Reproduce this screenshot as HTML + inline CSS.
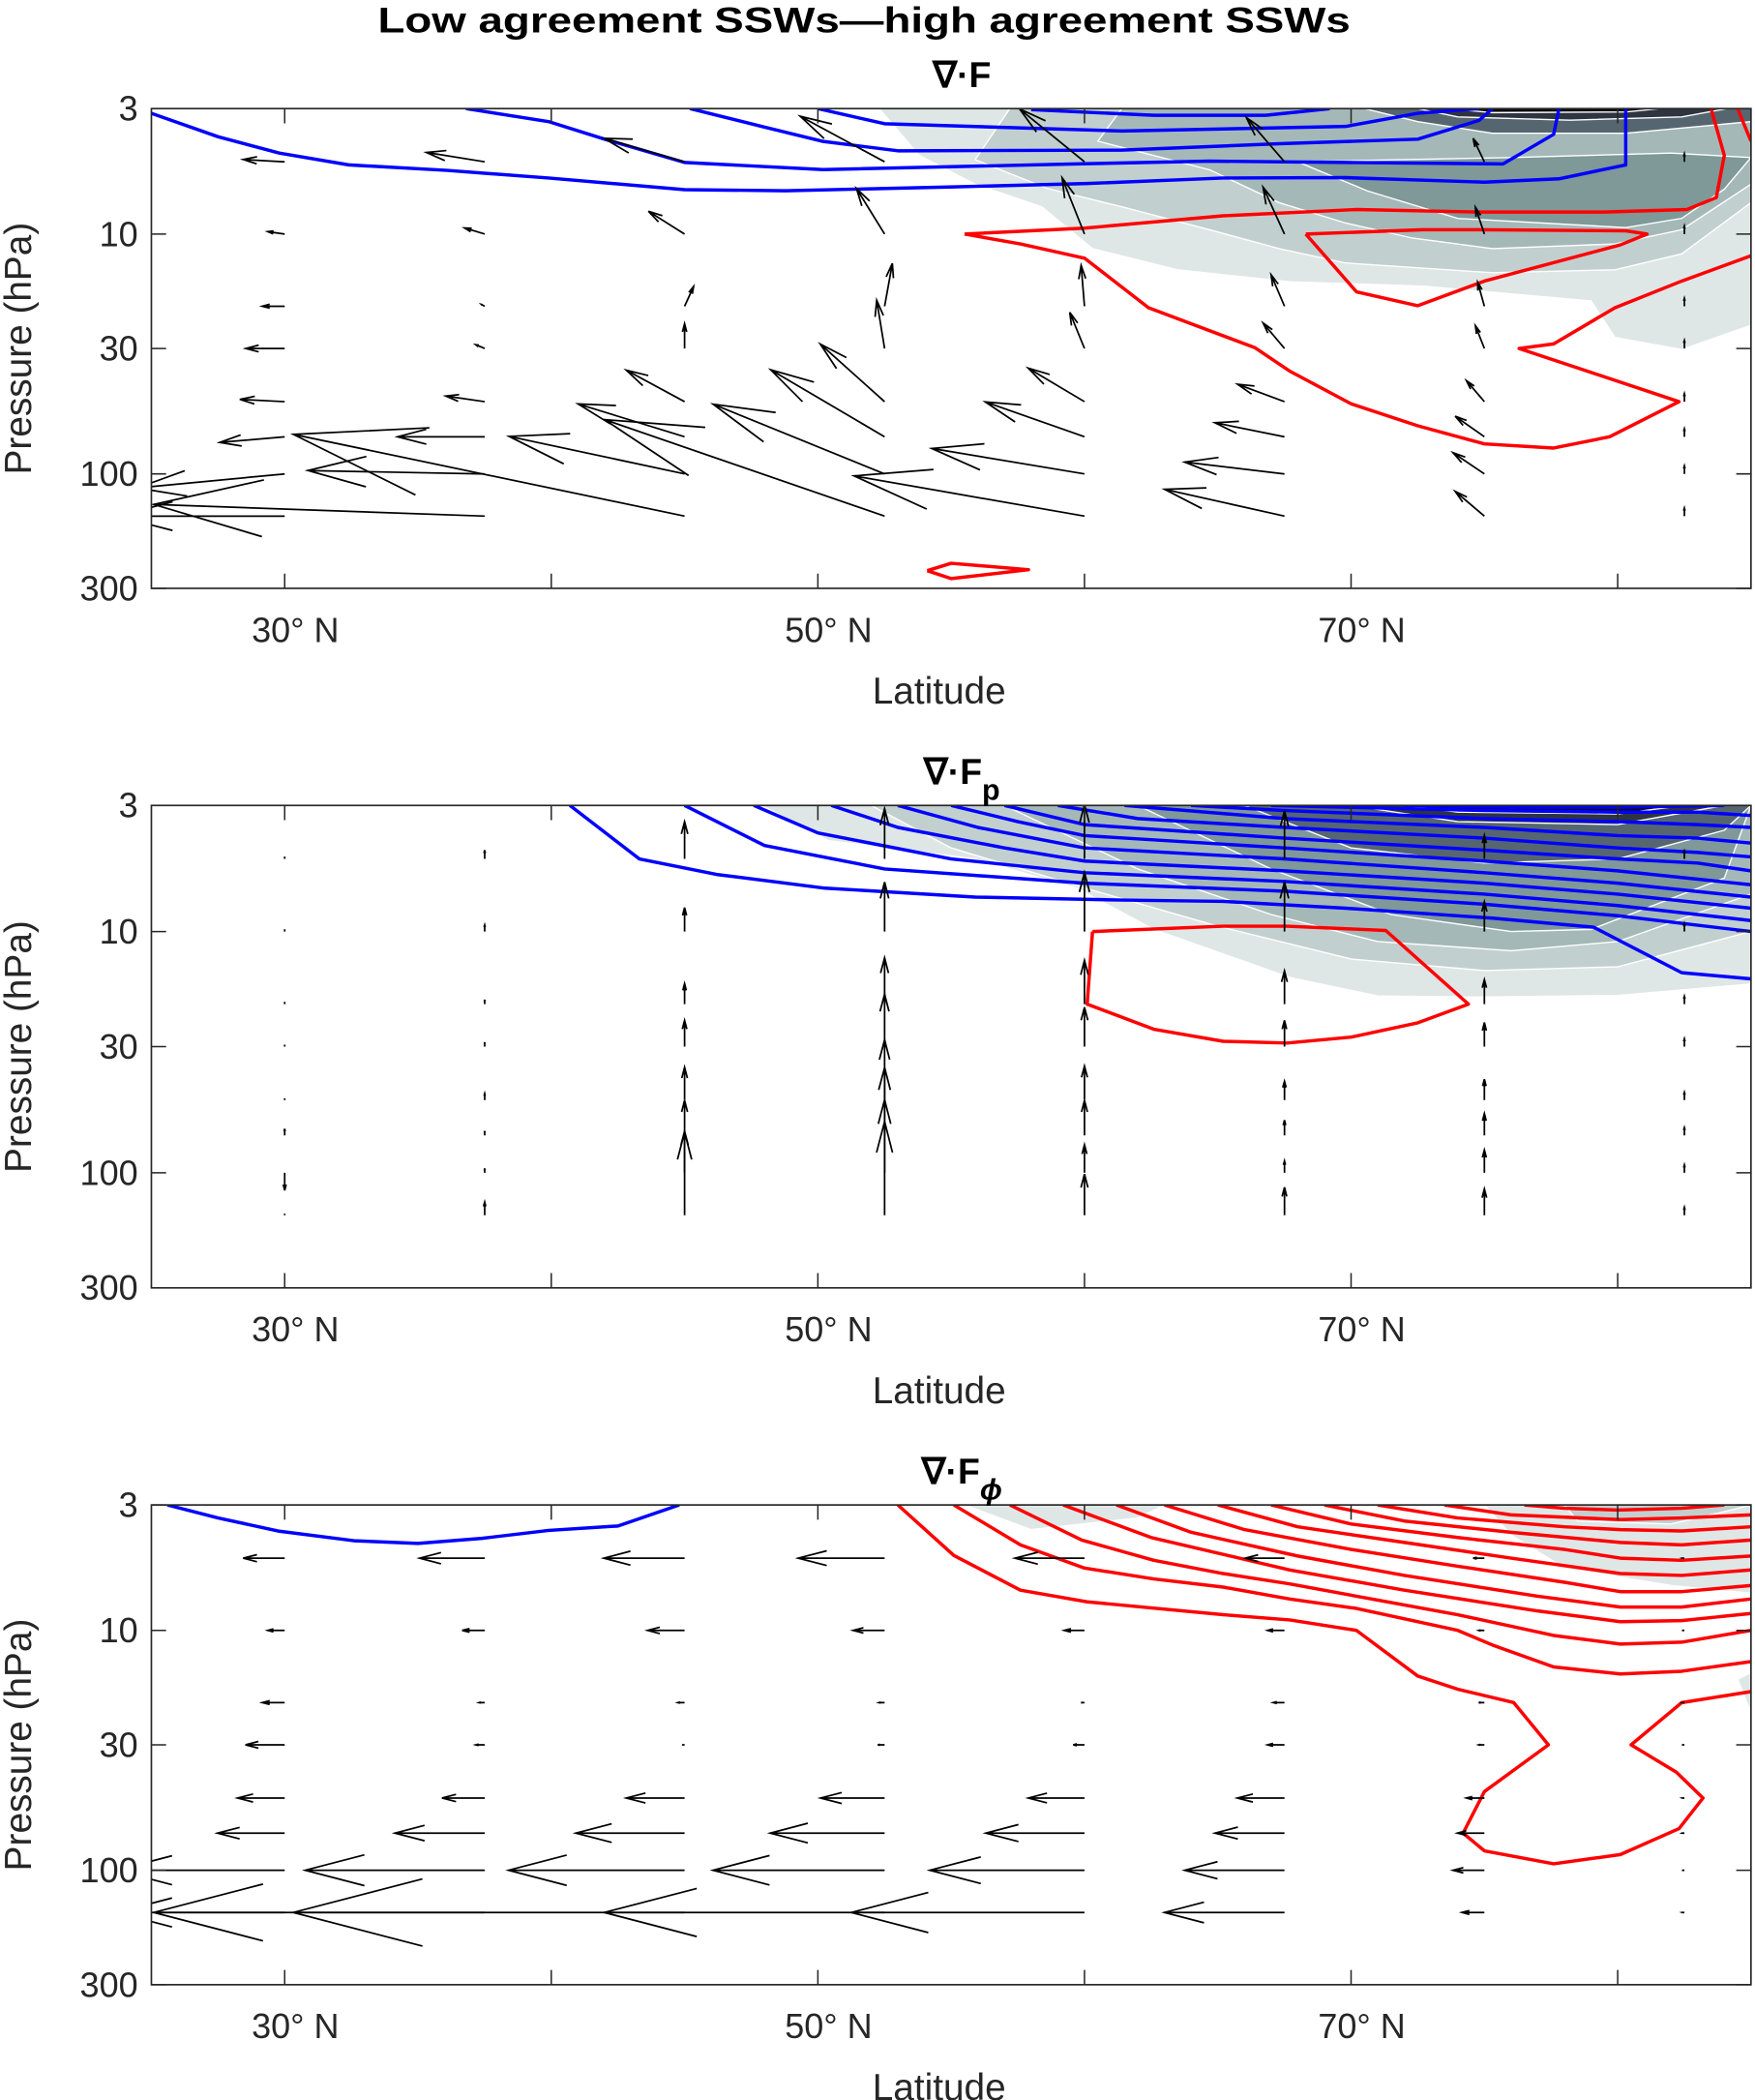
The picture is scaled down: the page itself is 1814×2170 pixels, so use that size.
<!DOCTYPE html>
<html><head><meta charset="utf-8">
<style>
html,body{margin:0;padding:0;background:#fff;}
svg{display:block;font-family:"Liberation Sans",Arial,sans-serif;}
</style></head>
<body>
<svg id="fig" xmlns="http://www.w3.org/2000/svg" width="1814" height="2170" viewBox="0 0 1310 1567">
<text x="645" y="24" text-anchor="middle" font-size="27" font-weight="bold" fill="#000" textLength="726" lengthAdjust="spacingAndGlyphs">Low agreement SSWs—high agreement SSWs</text>
<g id="root"></g>
</svg>
<script>
// ---------- data ----------
const lats = [30, 37.5, 45, 52.5, 60, 67.5, 75, 82.5];
const levels = [5, 10, 20, 30, 50, 70, 100, 150];
const xTicks = [30, 40, 50, 60, 70, 80];
const xTickLabels = ["30° N", "", "50° N", "", "70° N", ""];
const yTicks = [3, 10, 30, 100, 300];
const yTickLabels = ["3", "10", "30", "100", "300"];

// Panel 1: total EP flux (u,v)
const uF = [
 [-31,-43.5,-60,-63,-48.5,-28.5,-8.4,0],
 [-12.6,-15,-27,-21,-16.7,-16,-6.7,0],
 [-16.7,-2.5,6.7,5.9,-2.5,-10,-5,0],
 [-29,-6.7,0,-5.9,-11,-16,-6.7,0],
 [-33.5,-29,-43.5,-48,-42,-35,-13.4,0],
 [-48.5,-65,-79.5,-85,-74,-52,-21.8,0],
 [-110,-132,-131,-128,-114,-74.5,-23.4,0],
 [-125,-247,-292,-209,-172,-89.5,-21.8,0]];
const vF = [
 [1.75,7,17.5,34,39.5,33,17.5,6],
 [1.75,4.5,17,34,42,35,20,6],
 [0,1.4,14.7,32,30.5,23.5,18,6],
 [0,2.8,18.5,36,27,19,17,6],
 [1.75,4.2,23.5,43,25,13,15.75,6],
 [-4.2,0,24.5,50,26,10.5,15.4,6],
 [-10.5,2.5,28,52,19,8.75,15.75,6],
 [0,8.75,61,72,30,20,18.5,6]];
// Panel 2: vertical component
const vFp = [
 [5,20,85,115,124,110,54,18],
 [5,15,55,113,135,113,68,18],
 [5,10,47,106,100,76,56,18],
 [4,10,60,120,90,60,55,18],
 [4,15,75,138,78,43,48,18],
 [15,10,80,155,80,35,50,18],
 [-40,10,95,167,64,27,52,18],
 [3,30,190,214,94,64,60,18]];
// Panel 3: meridional component
const uFphi = [
 [-37,-58,-72,-77,-62,-35,-10,-2],
 [-15,-20,-33,-28,-18,-15,-5,-2],
 [-20,-5,-6,-5,-3,-10,-5,-2],
 [-35,-8,-2,-6,-10,-15,-5,-2],
 [-42,-38,-52,-57,-50,-42,-16,-2],
 [-60,-80,-97,-102,-88,-62,-24,-2],
 [-150,-160,-157,-153,-138,-89,-28,-2],
 [-150,-295,-349,-250,-208,-107,-20,-2]];

// contours [lat, p]
const p1Shade = [
 [[52.3,3],[53.8,4.7],[55.9,6.2],[58.4,7.7],[60.3,11.5],[63.5,14.1],[67.7,15.8],[72.7,16.5],[79,19],[79.9,27],[82.4,30.3],[85,24],[85,3]],
 [[57.2,3],[55.9,4.9],[58.6,6.45],[61.4,7.7],[64.7,9.6],[67.3,11.5],[69.8,13.2],[75.3,14.5],[79.9,14.1],[82.4,12.1],[85,7.4],[85,3]],
 [[61.4,3],[60.5,4.1],[64.7,5.4],[67.3,7.4],[69.8,9.0],[72.3,10.4],[75.3,11.5],[79.9,11],[82.4,9.6],[85,6.2],[85,3]],
 [[68,5.0],[70.6,6.6],[74,8.6],[80.3,9.4],[82.4,8.6],[84,6.5],[85,4.8],[82,4.6],[76,4.8],[72,4.9]],
 [[70.5,3],[72.5,3.4],[75.3,3.8],[80.3,3.8],[85,3.4],[85,3]],
 [[72.5,3],[74,3.25],[78.2,3.35],[82.4,3.25],[84.1,3]],
 [[73.6,3],[75.3,3.12],[80.3,3.1],[81.6,3]]];
const p1Red = [
 [[55.5,10],[57.6,11],[60,12.6],[62.4,20.3],[66.4,29.8],[67.7,37.3],[70,51],[72.5,63],[75,75],[77.6,78],[79.7,70],[82.3,50],[76.3,30],[77.6,28.7],[79.9,20.3],[82.4,15.7],[85.1,12.2]],
 [[55.5,10],[60,9.45],[65.2,8.4],[70.2,7.9],[74.8,8.1],[79.5,8.1],[82.6,7.9],[83.7,7.05],[84,4.7],[83.5,3]],
 [[68.3,10],[70.2,17.4],[72.5,19.9],[75,15.7],[80.1,11.1],[81.1,10],[80.3,9.7],[74.8,9.6],[72.7,9.6],[68.3,10]],
 [[84.5,3],[85,4.1]],
 [[54.1,253],[55,236],[57.9,251],[55,273],[54.1,253]]];
const p1Blue = [
 [[25,3.14],[27.5,3.93],[29.8,4.6],[32.4,5.15],[36.1,5.43],[39.9,5.84],[45,6.53],[48.8,6.6],[55.1,6.36],[60.1,6.16],[65.2,5.84],[69.8,5.82],[75,6.08],[77.8,5.89],[80.3,5.15],[80.3,3]],
 [[36.8,3],[39.9,3.4],[42,4.02],[45,5.03],[50.2,5.39],[59.7,5.1],[64.7,4.97],[69.8,5.03],[75.7,5.1],[77.6,3.84],[77.8,3]],
 [[45.2,3],[47.9,3.56],[50.2,4.11],[53,4.5],[61.4,4.47],[67.3,4.2],[72.5,4.02],[74.8,3.36],[75.3,3]],
 [[50,3],[52.5,3.47],[61.4,3.72],[69.8,3.56],[72.5,3.14],[74.8,3]],
 [[58,3.03],[62.6,3.2],[66.8,3.2],[69.2,3]]];

const p2Shade = [
 [[47.9,3],[50.4,4.2],[55.9,5],[59.7,6.6],[62.6,9.8],[67.7,15.5],[71,18.5],[74.8,18.7],[80,18.4],[85,16.5],[85,3]],
 [[52,3],[55,4.5],[60,6.6],[65,9.5],[70,13],[75,14.5],[80,14],[85,10],[85,3]],
 [[57,3],[62,5.5],[67,8.5],[71,11],[76,12],[80,11],[85,7],[85,3]],
 [[62,3],[67,5.5],[71.5,8.5],[76,10],[79,9.8],[84,6],[85,3]],
 [[66,3],[70,4.5],[75,5.2],[80,5],[84,3.8],[85,3]],
 [[70,3],[74,3.5],[80,3.6],[84,3]],
 [[72,3],[74,3.2],[80,3.25],[82.5,3]]];
const p2Red = [
 [[60.3,10],[65.2,9.5],[67.6,9.5],[71.3,9.9],[74.4,20],[72.5,23.9],[70,27.4],[67.6,29],[65.2,28.5],[62.6,25.4],[60.1,20],[60.3,10]]];
const p2Blue = [
 [[40.7,3],[43.3,5],[46.2,5.8],[50.2,6.6],[55.9,7.2],[61.4,7.4],[65.2,7.5],[69.8,8.0],[75.3,8.8],[79.1,9.6],[82.4,14.8],[85,15.7]],
 [[45,3],[48,4.4],[52.5,5.5],[60,6.3],[67.5,6.8],[75,7.7],[80,8.6],[85,10]],
 [[47.6,3],[50,3.9],[55,5.0],[60,5.7],[67.5,6.2],[75,7.0],[80,7.8],[85,9.0]],
 [[50.5,3],[53,3.7],[57,4.5],[60,5.1],[67.5,5.6],[75,6.3],[80,7.0],[85,8.0]],
 [[53,3],[56,3.7],[60,4.5],[67.5,5.0],[75,5.7],[80,6.3],[85,7.2]],
 [[55,3],[57.5,3.5],[60,4.0],[67.5,4.5],[75,5.1],[80,5.6],[85,6.4]],
 [[57,3],[60,3.6],[67.5,4.1],[75,4.6],[80,5.0],[83,5.2],[85,5.6]],
 [[59,3],[62,3.4],[67.5,3.7],[75,4.1],[80,4.5],[83,4.7],[85,4.9]],
 [[61.5,3],[67.5,3.4],[75,3.7],[80,4.0],[83,4.1],[85,4.3]],
 [[64,3],[67.5,3.15],[75,3.4],[80,3.5],[83,3.6],[85,3.7]],
 [[67,3],[75,3.15],[80,3.2],[83,3.2],[85,3.3]],
 [[72,3],[76,3.05],[80,3.05],[84,3]]];

const p3Shade = [
 [[55.5,3],[58,3.8],[62,3.4],[63,3]],
 [[75,3],[76,4],[78,5.5],[82,6.5],[85,7],[85,3]],
 [[78,3],[78.5,3.5],[82,3.6],[84,3.2],[85,3]],
 [[84.5,16],[85,15],[85,22]]];
const p3Blue = [
 [[25.6,3],[27.5,3.4],[29.8,3.86],[32.6,4.23],[35,4.34],[37.4,4.13],[39.9,3.83],[42.5,3.67],[44.8,3]]];
const p3Red = [
 [[53,3],[55.1,4.87],[57.6,6.8],[60.1,7.6],[65.2,8.6],[67.7,9.05],[70.2,10],[72.5,15.5],[74,17.6],[76.1,20],[77.4,30],[75,47],[74.2,70],[75,83],[77.6,94],[80.1,86],[82.3,67],[83.2,50],[82.2,39],[80.5,30],[82.4,20],[85,18]],
 [[55.1,3],[57.6,4.4],[60,5.5],[62.6,6.1],[65.2,6.6],[67.7,7.4],[70.2,8.1],[74,10],[75.3,11.5],[77.6,14.2],[80.1,15.2],[82.4,14.8],[85,13.5]],
 [[57.2,3],[59.9,4.2],[62.6,5.1],[65.2,5.8],[67.7,6.4],[70.2,7.2],[74,8.6],[77.6,10.5],[80.1,11.4],[82.4,11.2],[85,10]],
 [[59.2,3],[62.5,4.1],[67.7,5.6],[72,6.8],[77,8.3],[80.1,9.2],[82.4,9.1],[85,8.5]],
 [[61.2,3],[64,3.9],[68,4.9],[72,5.9],[77,7.2],[80.1,8.0],[82.4,8.0],[85,7.4]],
 [[63,3],[66,3.8],[70,4.6],[74,5.4],[78,6.3],[80.1,6.9],[82.4,6.9],[85,6.5]],
 [[65,3],[68,3.7],[72,4.3],[76,5.0],[80.1,5.8],[82.4,5.9],[85,5.6]],
 [[67,3],[70,3.6],[74,4.1],[78,4.6],[80.1,5.0],[82.4,5.1],[85,4.9]],
 [[69,3],[72,3.5],[76,3.9],[80.1,4.3],[82.4,4.4],[85,4.2]],
 [[71,3],[74,3.4],[78,3.7],[80.1,3.8],[82.4,3.85],[85,3.7]],
 [[73.5,3],[76,3.3],[80.1,3.45],[82.4,3.4],[85,3.3]],
 [[76.5,3],[78,3.1],[80,3.15],[82.4,3.1],[84,3]]];

const shadeColors = ["#dfe6e6","#c2cfcf","#a5b8b8","#7f9898","#566670","#2e3440","#0c0c12"];

// ---------- drawing ----------
const NS = "http://www.w3.org/2000/svg";
const root = document.getElementById("root");
const X0 = 113, X1 = 1307, LAT0 = 25, LAT1 = 85;
function xs(lat){ return X0 + (lat - LAT0) * (X1 - X0) / (LAT1 - LAT0); }
function ysFn(top, h){ return p => top + Math.log10(p / 3) / 2 * h; }
function mk(tag, attrs, parent){
  const e = document.createElementNS(NS, tag);
  for (const k in attrs) e.setAttribute(k, attrs[k]);
  (parent || root).appendChild(e);
  return e;
}

const panels = [
  {top: 81, h: 358, key: "total", title: "∇·F", sub: ""},
  {top: 601, h: 360, key: "vertical", title: "∇·F", sub: "p"},
  {top: 1123, h: 358, key: "meridional", title: "∇·F", sub: "ϕ"}
];

panels.forEach((P, idx) => {
  const ys = ysFn(P.top, P.h);
  const g = mk("g", {});
  
  
  const clipId = "clip" + idx;
  const cp = mk("clipPath", {id: clipId}, g);
  mk("rect", {x: X0, y: P.top, width: X1 - X0, height: P.h}, cp);
  const plot = mk("g", {"clip-path": "url(#" + clipId + ")"}, g);
  
  

  const toPts = arr => arr.map(q => xs(q[0]).toFixed(1) + "," + ys(q[1]).toFixed(1)).join(" ");
  const shade = idx === 0 ? p1Shade : idx === 1 ? p2Shade : p3Shade;
  shade.forEach((poly, i) => {
    const col = idx === 2 ? shadeColors[i === 2 ? 1 : 0] : shadeColors[i];
    const e = mk("polygon", {points: toPts(poly), fill: col, stroke: "#ffffff", "stroke-width": 1}, plot);
    
    
  });
  const reds = idx === 0 ? p1Red : idx === 1 ? p2Red : p3Red;
  const blues = idx === 0 ? p1Blue : idx === 1 ? p2Blue : p3Blue;
  blues.forEach((line, i) => {
    const e = mk("polyline", {points: toPts(line), fill: "none", stroke: "#0000ff", "stroke-width": 2.5, "stroke-linejoin": "round"}, plot);
    
    
  });
  reds.forEach((line, i) => {
    const e = mk("polyline", {points: toPts(line), fill: "none", stroke: "#ff0000", "stroke-width": 2.5, "stroke-linejoin": "round"}, plot);
    
    
  });

  // arrows
  const alpha = 0.33, beta = 0.26;
  levels.forEach((p, r) => {
    lats.forEach((lat, c) => {
      let u, v;
      if (idx === 0) { u = uF[r][c]; v = vF[r][c]; }
      else if (idx === 1) { u = 0; v = vFp[r][c] * 0.3266; }
      else { u = uFphi[r][c] * 0.837; v = 0; }
      const x = xs(lat), y = ys(p);
      const dx = u, dy = -v;
      const tx = x + dx, ty = y + dy;
      const b1x = tx - alpha * (dx + beta * dy), b1y = ty - alpha * (dy - beta * dx);
      const b2x = tx - alpha * (dx - beta * dy), b2y = ty - alpha * (dy + beta * dx);
      const d = "M" + x.toFixed(1) + "," + y.toFixed(1) + "L" + tx.toFixed(1) + "," + ty.toFixed(1) +
        "M" + b1x.toFixed(1) + "," + b1y.toFixed(1) + "L" + tx.toFixed(1) + "," + ty.toFixed(1) + "L" + b2x.toFixed(1) + "," + b2y.toFixed(1);
      const e = mk("path", {d: d, fill: "none", stroke: "#000", "stroke-width": 1.25}, plot);
      
      
    });
  });

  // axes box
  const box = mk("rect", {x: X0, y: P.top, width: X1 - X0, height: P.h, fill: "none", stroke: "#262626", "stroke-width": 1.2}, g);
  
  

  xTicks.forEach((t, i) => {
    const x = xs(t);
    const tk = mk("path", {d: "M" + x + "," + (P.top + P.h) + "v-11M" + x + "," + P.top + "v11", stroke: "#262626", "stroke-width": 1.1}, g);
    
    
    if (xTickLabels[i]) {
      const tl = mk("text", {x: x + 8, y: P.top + P.h + 40, "text-anchor": "middle", "font-size": 26, fill: "#262626"}, g);
      tl.textContent = xTickLabels[i];
      
      
    }
  });
  yTicks.forEach((t, i) => {
    const y = ys(t);
    const tk = mk("path", {d: "M" + X0 + "," + y + "h11M" + X1 + "," + y + "h-11", stroke: "#262626", "stroke-width": 1.1}, g);
    
    
    const tl = mk("text", {x: X0 - 10, y: y + 9, "text-anchor": "end", "font-size": 26, fill: "#262626"}, g);
    tl.textContent = yTickLabels[i];
    
    
  });
  const xl = mk("text", {x: 701, y: P.top + P.h + 86, "text-anchor": "middle", "font-size": 28, fill: "#262626"}, g);
  xl.textContent = "Latitude";
  
  
  const cy = P.top + P.h / 2;
  const yl = mk("text", {x: 0, y: 0, transform: "translate(23," + cy + ") rotate(-90)", "text-anchor": "middle", "font-size": 28, fill: "#262626"}, g);
  yl.textContent = "Pressure (hPa)";
  
  

  const tt = mk("text", {x: 718, y: P.top - 16, "text-anchor": "middle", "font-size": 27, "font-weight": "bold", fill: "#000"}, g);
  
  
  tt.appendChild(document.createTextNode(P.title));
  if (P.sub) {
    const ts = mk("tspan", {dy: 12, "font-size": 22, "font-style": P.sub === "ϕ" ? "italic" : "normal"}, tt);
    ts.textContent = P.sub;
  }
});
</script>
</body></html>
